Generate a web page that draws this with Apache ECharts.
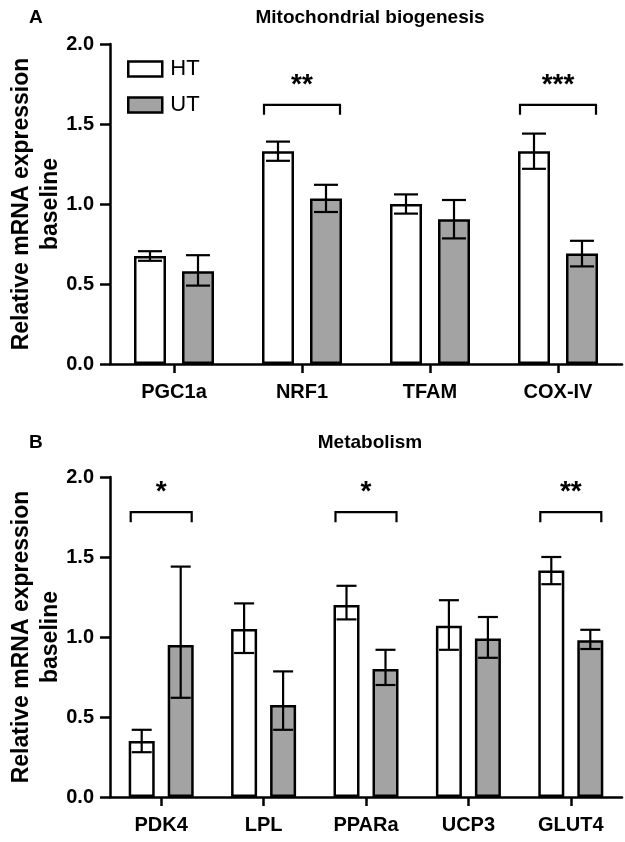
<!DOCTYPE html>
<html><head><meta charset="utf-8">
<script src="https://cdn.jsdelivr.net/npm/echarts@6/dist/echarts.min.js"></script>
<style>html,body{margin:0;padding:0;background:#fff}#c{width:625px;height:842px}</style>
</head><body><div id="c"></div>
<script>
// Panel A: Mitochondrial biogenesis
const catsA = ['PGC1a', 'NRF1', 'TFAM', 'COX-IV'];
const htA = [0.675, 1.33, 1.0, 1.33];
const htA_lo = [0.645, 1.27, 0.94, 1.22];
const htA_hi = [0.705, 1.39, 1.06, 1.44];
const utA = [0.58, 1.035, 0.905, 0.69];
const utA_lo = [0.49, 0.95, 0.785, 0.61];
const utA_hi = [0.68, 1.12, 1.025, 0.77];
const sigA = [[1, 1.62, '**'], [3, 1.62, '***']];

// Panel B: Metabolism
const catsB = ['PDK4', 'LPL', 'PPARa', 'UCP3', 'GLUT4'];
const htB = [0.35, 1.05, 1.2, 1.07, 1.415];
const htB_lo = [0.28, 0.90, 1.11, 0.92, 1.33];
const htB_hi = [0.42, 1.21, 1.32, 1.23, 1.50];
const utB = [0.95, 0.575, 0.80, 0.99, 0.98];
const utB_lo = [0.62, 0.42, 0.70, 0.87, 0.925];
const utB_hi = [1.44, 0.785, 0.92, 1.125, 1.045];
const sigB = [[0, 1.78, '*'], [2, 1.78, '*'], [4, 1.78, '**']];

const yTicks = [0, 0.5, 1.0, 1.5, 2.0];

const FONT = 'Liberation Sans, Arial, sans-serif';
const GRAY = '#a3a3a3';

const chart = echarts.init(document.getElementById('c'), null, {renderer: 'canvas'});

function yAxis(gi) {
  return {
    gridIndex: gi, type: 'value', min: yTicks[0], max: yTicks[yTicks.length - 1], interval: 0.5,
    name: 'Relative mRNA expression\nbaseline', nameLocation: 'middle', nameRotate: 90, nameGap: 45,
    nameMoveOverlap: false,
    nameTextStyle: {fontFamily: FONT, fontWeight: 'bold', fontSize: 23, color: '#000', lineHeight: 29},
    axisLine: {show: true, lineStyle: {color: '#000', width: 2.5}},
    axisTick: {show: true, length: 10, lineStyle: {color: '#000', width: 2.5}},
    axisLabel: {fontFamily: FONT, fontWeight: 'bold', fontSize: 20, color: '#000', margin: 16,
      formatter: v => v.toFixed(1)},
    splitLine: {show: false}
  };
}
function xAxis(gi, cats) {
  return {
    gridIndex: gi, type: 'category', data: cats,
    axisLine: {show: true, lineStyle: {color: '#000', width: 2.5}},
    axisTick: {show: true, alignWithLabel: true, length: 9, lineStyle: {color: '#000', width: 2.5}},
    axisLabel: {fontFamily: FONT, fontWeight: 'bold', fontSize: 20, color: '#000', margin: 18}
  };
}

function barSeries(name, gi, vals, color, bw) {
  return {
    name, type: 'bar', xAxisIndex: gi, yAxisIndex: gi, data: vals,
    barWidth: bw, barGap: '50%',
    itemStyle: {color, borderColor: '#000', borderWidth: 2.5},
    emphasis: {disabled: true}, z: 2
  };
}

function errSeries(gi, lo, hi, side, bw, cap) {
  const data = lo.map((l, i) => [i, l, hi[i]]);
  return {
    type: 'custom', xAxisIndex: gi, yAxisIndex: gi, data, z: 5, silent: true,
    renderItem: (params, api) => {
      const i = api.value(0);
      const pLo = api.coord([i, api.value(1)]);
      const pHi = api.coord([i, api.value(2)]);
      const x = pLo[0] + side * (bw * 0.75);
      const st = {stroke: '#000', lineWidth: 2.2};
      return {type: 'group', children: [
        {type: 'line', shape: {x1: x, y1: pLo[1], x2: x, y2: pHi[1]}, style: st},
        {type: 'line', shape: {x1: x - cap / 2, y1: pLo[1], x2: x + cap / 2, y2: pLo[1]}, style: st},
        {type: 'line', shape: {x1: x - cap / 2, y1: pHi[1], x2: x + cap / 2, y2: pHi[1]}, style: st}
      ]};
    }
  };
}

function sigSeries(gi, sig, bw, drop) {
  return {
    type: 'custom', xAxisIndex: gi, yAxisIndex: gi, data: sig, z: 5, silent: true,
    encode: {x: 0, y: 1},
    renderItem: (params, api) => {
      const i = api.value(0);
      const p = api.coord([i, api.value(1)]);
      const x1 = p[0] - bw * 0.75 - bw / 2 + 2, x2 = p[0] + bw * 0.75 + bw / 2 - 2;
      const y = p[1];
      const st = {stroke: '#000', lineWidth: 2.2, fill: null};
      return {type: 'group', children: [
        {type: 'polyline', shape: {points: [[x1, y + drop], [x1, y], [x2, y], [x2, y + drop]]}, style: st},
        {type: 'text', style: {text: sig[params.dataIndex][2], x: p[0], y: y - 6,
          textAlign: 'center', textVerticalAlign: 'bottom', fill: '#000', font: 'bold 28px ' + FONT}}
      ]};
    }
  };
}

const bwA = 32, bwB = 26;

chart.setOption({
  animation: false,
  backgroundColor: '#fff',
  title: [
    {text: 'A', left: 24, top: 3, textStyle: {fontFamily: FONT, fontWeight: 'bold', fontSize: 19, color: '#000'}},
    {text: 'Mitochondrial biogenesis', left: 365, top: 3, textAlign: 'center', textStyle: {fontFamily: FONT, fontWeight: 'bold', fontSize: 19, color: '#000'}},
    {text: 'B', left: 24, top: 428, textStyle: {fontFamily: FONT, fontWeight: 'bold', fontSize: 19, color: '#000'}},
    {text: 'Metabolism', left: 365, top: 428, textAlign: 'center', textStyle: {fontFamily: FONT, fontWeight: 'bold', fontSize: 19, color: '#000'}}
  ],
  legend: {
    data: [{name: 'HT', icon: 'rect'}, {name: 'UT', icon: 'rect'}], orient: 'vertical', left: 122, top: 53,
    itemWidth: 34, itemHeight: 15, itemGap: 14,
    selectedMode: false,
    textStyle: {fontFamily: FONT, fontSize: 22, color: '#000', padding: [0, 0, 0, 3]},
    itemStyle: {borderColor: '#000', borderWidth: 2.5}
  },
  grid: [
    {left: 110, top: 44, width: 512, height: 320, containLabel: false, outerBoundsMode: 'none'},
    {left: 110, top: 477, width: 512, height: 320, containLabel: false, outerBoundsMode: 'none'}
  ],
  xAxis: [xAxis(0, catsA), xAxis(1, catsB)],
  yAxis: [yAxis(0), yAxis(1)],
  series: [
    barSeries('HT', 0, htA, '#fff', bwA),
    barSeries('UT', 0, utA, GRAY, bwA),
    errSeries(0, htA_lo, htA_hi, -1, bwA, 24),
    errSeries(0, utA_lo, utA_hi, 1, bwA, 24),
    sigSeries(0, sigA, bwA, 10),
    barSeries('HT', 1, htB, '#fff', bwB),
    barSeries('UT', 1, utB, GRAY, bwB),
    errSeries(1, htB_lo, htB_hi, -1, bwB, 20),
    errSeries(1, utB_lo, utB_hi, 1, bwB, 20),
    sigSeries(1, sigB, bwB, 10)
  ]
});
</script></body></html>
